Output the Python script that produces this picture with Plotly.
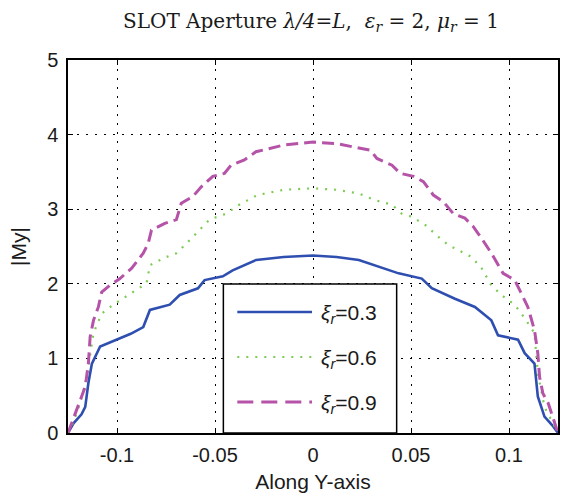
import plotly.graph_objects as go

# ---- data ----
x_03 = [-0.125, -0.1222, -0.1181, -0.1162, -0.1146, -0.1128, -0.1086, -0.1002, -0.0930, -0.0866,
        -0.0832, -0.0731, -0.068, -0.0587, -0.0553, -0.046, -0.041, -0.029, -0.015, 0,
        0.012, 0.0234, 0.0437, 0.0555, 0.0606, 0.0724, 0.0826, 0.091, 0.0944, 0.1046,
        0.108, 0.113, 0.1147, 0.1181, 0.1222, 0.125]
y_03 = [0, 0.13, 0.25, 0.35, 0.67, 0.93, 1.16, 1.25, 1.33, 1.42,
        1.65, 1.72, 1.85, 1.94, 2.05, 2.10, 2.18, 2.32, 2.36, 2.38,
        2.36, 2.32, 2.14, 2.07, 1.94, 1.80, 1.69, 1.51, 1.31, 1.25,
        1.07, 0.93, 0.49, 0.22, 0.10, 0]

x_06 = [-0.125, -0.1222, -0.1188, -0.1154, -0.112, -0.1078, -0.1019, -0.095, -0.090, -0.0849,
        -0.0832, -0.0748, -0.0697, -0.0646, -0.0595, -0.0528, -0.0443, -0.0376, -0.0283, -0.015,
        0, 0.012, 0.0234, 0.0318, 0.0403, 0.0453, 0.0504, 0.0572, 0.064, 0.069,
        0.0809, 0.086, 0.091, 0.0961, 0.1029, 0.108, 0.113, 0.1147, 0.1181, 0.1222, 0.125]
y_06 = [0, 0.15, 0.40, 0.75, 1.34, 1.60, 1.72, 1.83, 1.92, 2.01,
        2.25, 2.36, 2.41, 2.54, 2.68, 2.86, 2.94, 3.06, 3.19, 3.26,
        3.28, 3.26, 3.21, 3.12, 3.06, 2.94, 2.90, 2.79, 2.63, 2.52,
        2.36, 2.21, 1.98, 1.85, 1.72, 1.54, 1.34, 0.80, 0.35, 0.15, 0]

x_09 = [-0.125, -0.1239, -0.1205, -0.1162, -0.1146, -0.1137, -0.112, -0.1095, -0.1078, -0.1036,
        -0.0985, -0.0925, -0.0866, -0.0841, -0.0824, -0.0756, -0.0697, -0.0672, -0.0613, -0.057,
        -0.0511, -0.0452, -0.0418, -0.035, -0.0291, -0.015, 0, 0.012, 0.0234, 0.0293,
        0.0326, 0.0403, 0.0445, 0.0513, 0.0563, 0.0614, 0.0665, 0.0716, 0.0775, 0.0817,
        0.086, 0.091, 0.097, 0.1029, 0.1063, 0.1096, 0.113, 0.1147, 0.1156, 0.1173, 0.12, 0.125]
y_09 = [0, 0.08, 0.31, 0.62, 0.93, 1.29, 1.51, 1.69, 1.89, 1.98,
        2.07, 2.21, 2.41, 2.54, 2.72, 2.81, 2.86, 3.08, 3.17, 3.30,
        3.44, 3.48, 3.59, 3.66, 3.77, 3.86, 3.90, 3.88, 3.82, 3.79,
        3.68, 3.59, 3.48, 3.44, 3.37, 3.19, 3.10, 2.94, 2.88, 2.77,
        2.61, 2.41, 2.14, 2.05, 1.87, 1.69, 1.38, 1.07, 0.75, 0.53, 0.40, 0]

x_ticks = [-0.1, -0.05, 0, 0.05, 0.1]
x_ticklabels = ["-0.1", "-0.05", "0", "0.05", "0.1"]
y_ticks = [0, 1, 2, 3, 4, 5]
series_labels = ["<i>ξ</i><sub><i>r</i></sub>=0.3", "<i>ξ</i><sub><i>r</i></sub>=0.6",
                 "<i>ξ</i><sub><i>r</i></sub>=0.9"]

# ---- styles ----
BLUE = "#2F4FB0"
GREEN = "#7CCB55"
MAGENTA = "#B553A8"
SANS = "Liberation Sans, Arial"
TXT = "#1a1a1a"
styles = [
    dict(color=BLUE, width=2.6, dash="solid"),
    dict(color=GREEN, width=2.2, dash="2px,7px"),
    dict(color=MAGENTA, width=3, dash="12px,6px"),
]

fig = go.Figure()
for xs, ys, st, name in zip([x_03, x_06, x_09], [y_03, y_06, y_09], styles, series_labels):
    fig.add_trace(go.Scatter(x=xs, y=ys, mode="lines", line=st, name=name, showlegend=False))

W, H = 562, 501
L, R, T, B = 68, 2, 60, 68
pw, ph = W - L - R, H - T - B


def px2x(px):
    return (px - L) / pw


def px2y(py):
    return (H - B - py) / ph


shapes = []
annotations = []
# legend box
shapes.append(dict(type="rect", xref="paper", yref="paper",
                   x0=px2x(224), x1=px2x(398), y0=0, y1=px2y(284),
                   fillcolor="white", line=dict(color="black", width=1.5), layer="above"))
rows = [312, 357, 402]
leg_styles = [
    dict(color=BLUE, width=2.6, dash="solid"),
    dict(color=GREEN, width=2.2, dash="2px,7px"),
    dict(color=MAGENTA, width=3, dash="16px,8px"),
]
for ry, st, name in zip(rows, leg_styles, series_labels):
    shapes.append(dict(type="line", xref="paper", yref="paper",
                       x0=px2x(238), x1=px2x(313), y0=px2y(ry), y1=px2y(ry),
                       line=st, layer="above"))
    annotations.append(dict(text=name, xref="paper", yref="paper", x=px2x(320), y=px2y(ry + 2),
                            xanchor="left", yanchor="middle", showarrow=False,
                            font=dict(family=SANS, size=21, color=TXT)))

fig.update_layout(
    width=W, height=H,
    margin=dict(l=L, r=R, t=T, b=B),
    paper_bgcolor="white", plot_bgcolor="white",
    title=dict(text="SLOT Aperture <i>λ/4=L</i>,  <i>ε</i><sub><i>r</i></sub> = 2, <i>μ</i><sub><i>r</i></sub> = 1",
               x=311 / W, xanchor="center", y=1 - 21 / H, yanchor="middle",
               font=dict(family="DejaVu Serif", size=20, color=TXT)),
    shapes=shapes, annotations=annotations,
    xaxis=dict(range=[-0.125, 0.125], tickvals=x_ticks, ticktext=x_ticklabels,
               showline=True, linecolor="black", linewidth=1.5, mirror="ticks",
               ticks="inside", ticklen=5, tickcolor="black", tickwidth=1,
               showgrid=True, gridcolor="black", gridwidth=1, griddash="1.5px,7.5px",
               zeroline=False, ticklabelstandoff=3,
               tickfont=dict(family=SANS, size=20, color=TXT),
               title=dict(text="Along Y-axis", standoff=10,
                          font=dict(family=SANS, size=21, color=TXT))),
    yaxis=dict(range=[0, 5], tickvals=y_ticks,
               showline=True, linecolor="black", linewidth=1.5, mirror="ticks",
               ticks="inside", ticklen=5, tickcolor="black", tickwidth=1,
               showgrid=True, gridcolor="black", gridwidth=1, griddash="1.5px,7.5px",
               zeroline=False, ticklabelstandoff=4,
               tickfont=dict(family=SANS, size=20, color=TXT),
               title=dict(text="|My|", standoff=15,
                          font=dict(family=SANS, size=21, color=TXT))),
)

fig.write_html("out.html")
